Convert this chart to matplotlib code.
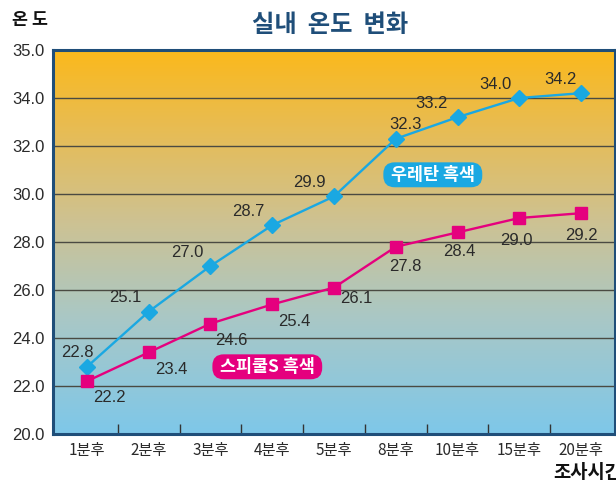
import matplotlib.pyplot as plt
import numpy as np
from matplotlib.colors import LinearSegmentedColormap

plt.rcParams['font.family'] = ['Noto Sans CJK KR', 'DejaVu Sans']

# data
times = ["1분후", "2분후", "3분후", "4분후", "5분후", "8분후", "10분후", "15분후", "20분후"]
urethane = [22.8, 25.1, 27.0, 28.7, 29.9, 32.3, 33.2, 34.0, 34.2]
spicool = [22.2, 23.4, 24.6, 25.4, 26.1, 27.8, 28.4, 29.0, 29.2]
# the original labels its top tick (at 36) as 35.0
ytick_pos = [20, 22, 24, 26, 28, 30, 32, 34, 36]
ytick_lab = ["20.0", "22.0", "24.0", "26.0", "28.0", "30.0", "32.0", "34.0", "35.0"]

# label offsets in points
blue_off = [(-7, 10), (-17, 10), (-17, 10), (-17, 10), (-18, 10), (7, 10), (-19, 10), (-17, 10), (-15, 10)]
pink_off = [(16, -12), (16, -12), (15, -12), (16, -12), (16, -8), (7, -14), (1, -14), (-2, -16), (0, -16)]

frame_col = "#1f4e79"
blue = "#1aa8e2"
pink = "#e5007e"

fig = plt.figure(figsize=(6.16, 4.84), dpi=100)
ax = fig.add_axes([53 / 616, 1 - 434 / 484, 562 / 616, 384 / 484])

# gradient background
cmap = LinearSegmentedColormap.from_list(
    "bg", [(0, "#7ec7e9"), (0.3, "#a9c8c6"), (0.55, "#cdc293"), (0.8, "#e8bc52"), (1, "#fbb91c")])
grad = np.linspace(0, 1, 256).reshape(-1, 1)
ax.imshow(grad, cmap=cmap, aspect="auto", origin="lower", extent=[0, 1, 0, 1],
          transform=ax.transAxes, zorder=0)

x = np.arange(len(times))
ax.set_xlim(-0.55, len(times) - 0.45)
ax.set_ylim(20, 36)

for g in ytick_pos[1:-1]:
    ax.axhline(g, color="#4a4a42", lw=1.0, zorder=1)

ax.plot(x, urethane, color=blue, lw=1.7, marker="D", ms=8.5, zorder=3)
ax.plot(x, spicool, color=pink, lw=1.7, marker="s", ms=9, zorder=3)

for i, v in enumerate(urethane):
    ax.annotate(f"{v:.1f}", (x[i], v), xytext=blue_off[i], textcoords="offset points",
                ha="center", va="center", fontsize=12, color="#2a2a2a", family="Liberation Sans")
for i, v in enumerate(spicool):
    ax.annotate(f"{v:.1f}", (x[i], v), xytext=pink_off[i], textcoords="offset points",
                ha="center", va="center", fontsize=12, color="#2a2a2a", family="Liberation Sans")

# legend badges
ax.text(5.6, 30.8, " 우레탄 흑색 ", color="white", fontsize=12.5, fontweight="bold", ha="center", va="center",
        bbox=dict(boxstyle="round,pad=0.2,rounding_size=0.65", fc=blue, ec="none"), zorder=4)
ax.text(2.92, 22.8, " 스피쿨S 흑색 ", color="white", fontsize=12.5, fontweight="bold", ha="center", va="center",
        bbox=dict(boxstyle="round,pad=0.2,rounding_size=0.65", fc=pink, ec="none"), zorder=4)

ax.set_yticks(ytick_pos)
ax.set_yticklabels(ytick_lab, family="Liberation Sans", fontsize=12, color="#2a2a2a")
ax.tick_params(axis="y", length=0, pad=6)

ax.set_xticks(x)
ax.set_xticklabels(times, fontsize=11, color="#2a2a2a")
ax.tick_params(axis="x", length=0, pad=6)
ax.set_xticks(x[:-1] + 0.5, minor=True)
ax.tick_params(axis="x", which="minor", direction="in", length=7, color="#333333", width=1)

for s in ax.spines.values():
    s.set_color(frame_col)
    s.set_linewidth(2.2)
    s.set_zorder(5)

fig.text(330 / 616, 1 - 25 / 484, "실내  온도  변화", ha="center", va="center",
         fontsize=17.5, fontweight="bold", color=frame_col)
fig.text(12 / 616, 1 - 20 / 484, "온 도", ha="left", va="center", fontsize=12.5, fontweight="bold", color="#111111")
fig.text(553 / 616, 1 - 473 / 484, "조사시간", ha="left", va="center", fontsize=13.5, fontweight="bold", color="#111111")

fig.savefig("out.png", dpi=100)
